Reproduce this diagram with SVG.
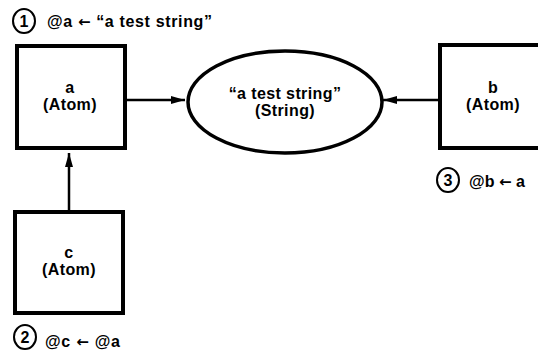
<svg xmlns="http://www.w3.org/2000/svg" width="538" height="351" viewBox="0 0 538 351">
<defs>
<style>
.box{fill:#fff;stroke:#000;stroke-width:4}
.ell{fill:#fff;stroke:#000;stroke-width:3.5}
.t{font-family:"Liberation Sans",Arial,sans-serif;font-weight:bold;font-size:16px;letter-spacing:0.4px;fill:#000;text-anchor:middle}
.lbl{font-family:"Liberation Sans",Arial,sans-serif;font-weight:bold;font-size:16px;fill:#000}
.arr{font-family:"DejaVu Sans",sans-serif;font-weight:bold;font-size:15px}
.num{font-family:"Liberation Sans",Arial,sans-serif;font-weight:bold;font-size:16px;fill:#000;text-anchor:middle}
.circ{fill:none;stroke:#000;stroke-width:2}
.con{stroke:#000;stroke-width:2.5;fill:none}
</style>
<marker id="ah" viewBox="0 0 14 10" refX="14" refY="5" markerWidth="14" markerHeight="10" markerUnits="userSpaceOnUse" orient="auto">
<path d="M0,1 L14,5 L0,9 Z" fill="#000"/>
</marker>
</defs>
<rect width="538" height="351" fill="#fff"/>
<g id="connectors">
<line class="con" x1="126" y1="100" x2="185" y2="100" marker-end="url(#ah)"/>
<line class="con" x1="438" y1="100" x2="383" y2="100" marker-end="url(#ah)"/>
<line class="con" x1="69" y1="210" x2="69" y2="153" marker-end="url(#ah)"/>
</g>
<g id="node-a">
<rect class="box" x="17" y="46" width="108" height="102"/>
<text class="t" x="70" y="93">a</text>
<text class="t" x="70" y="110">(Atom)</text>
</g>
<g id="node-string">
<ellipse class="ell" cx="285" cy="102" rx="97" ry="51"/>
<text class="t" x="285" y="99">“a test string”</text>
<text class="t" x="285" y="116">(String)</text>
</g>
<g id="node-b">
<rect class="box" x="440" y="45" width="108" height="103"/>
<text class="t" x="493" y="93">b</text>
<text class="t" x="493" y="110">(Atom)</text>
</g>
<g id="node-c">
<rect class="box" x="15" y="212" width="108" height="101"/>
<text class="t" x="69" y="258">c</text>
<text class="t" x="69" y="275">(Atom)</text>
</g>
<g id="label-1">
<ellipse class="circ" cx="24" cy="21" rx="11" ry="12"/>
<text class="num" x="24" y="27">1</text>
<text class="lbl" x="47" y="27" textLength="165" lengthAdjust="spacing">@a <tspan class="arr">←</tspan> “a test string”</text>
</g>
<g id="label-2">
<ellipse class="circ" cx="25" cy="337" rx="11" ry="12"/>
<text class="num" x="25" y="343">2</text>
<text class="lbl" x="45" y="347" textLength="75" lengthAdjust="spacing">@c <tspan class="arr">←</tspan> @a</text>
</g>
<g id="label-3">
<ellipse class="circ" cx="448" cy="180" rx="11" ry="12"/>
<text class="num" x="448" y="186">3</text>
<text class="lbl" x="469" y="187" textLength="56" lengthAdjust="spacing">@b <tspan class="arr">←</tspan> a</text>
</g>
</svg>
